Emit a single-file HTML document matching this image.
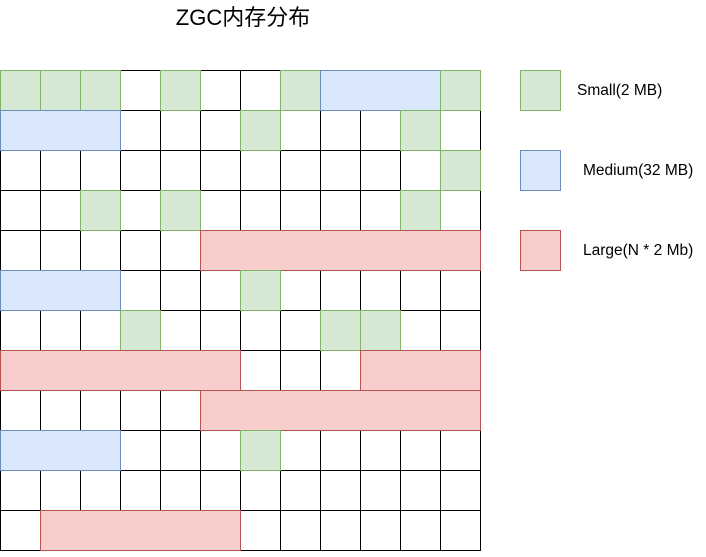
<!DOCTYPE html>
<html>
<head>
<meta charset="utf-8">
<style>
  html,body{margin:0;padding:0;background:#fff;}
  body{width:706px;height:552px;overflow:hidden;}
  svg text{font-family:"Liberation Sans","Noto Sans CJK SC",sans-serif;}
</style>
</head>
<body>
<svg id="chart" width="706" height="552" viewBox="0 0 706 552" xmlns="http://www.w3.org/2000/svg">
  <text x="243" y="25" font-size="22" text-anchor="middle" fill="#000">ZGC内存分布</text>
  <g id="grid"></g>
  <g id="blocks"></g>
  <g id="legend"></g>
</svg>
<script>
const gridCols = 12;
const gridRows = 12;
// block rows, start columns, spans, types
const blockRows  = [0,0,0,0,0,0,0, 1,1,1, 2, 3,3,3, 4, 5,5, 6,6,6, 7,7, 8, 9,9, 11];
const blockCols  = [0,1,2,4,7,8,11, 0,6,10, 11, 2,4,10, 5, 0,6, 3,8,9, 0,9, 5, 0,6, 1];
const blockSpans = [1,1,1,1,1,3,1, 3,1,1, 1, 1,1,1, 7, 3,1, 1,1,1, 6,3, 7, 3,1, 5];
const blockTypes = ['s','s','s','s','s','m','s', 'm','s','s', 's', 's','s','s', 'l', 'm','s', 's','s','s', 'l','l', 'l', 'm','s', 'l'];
const legendKeys = ['s','m','l'];
const legendLabels = ['Small(2 MB)','Medium(32 MB)','Large(N * 2 Mb)'];

const X0 = 0, Y0 = 70, CELL = 40;
const styles = {
  s:{fill:'#d5e8d4',stroke:'#82b366'},
  m:{fill:'#dae8fc',stroke:'#6c8ebf'},
  l:{fill:'#f8cecc',stroke:'#b85450'}
};
const NS = 'http://www.w3.org/2000/svg';
const xPos = c => X0 + c * CELL;
const yPos = r => Y0 + r * CELL;

const grid = document.getElementById('grid');
for (let r = 0; r < gridRows; r++) {
  for (let c = 0; c < gridCols; c++) {
    const rect = document.createElementNS(NS, 'rect');
    rect.setAttribute('x', xPos(c) + 0.5);
    rect.setAttribute('y', yPos(r) + 0.5);
    rect.setAttribute('width', CELL);
    rect.setAttribute('height', CELL);
    rect.setAttribute('fill', '#fff');
    rect.setAttribute('stroke', '#000');
    
    
    grid.appendChild(rect);
  }
}

const blocks = document.getElementById('blocks');
for (let i = 0; i < blockRows.length; i++) {
  const st = styles[blockTypes[i]];
  const rect = document.createElementNS(NS, 'rect');
  rect.setAttribute('x', xPos(blockCols[i]) + 0.5);
  rect.setAttribute('y', yPos(blockRows[i]) + 0.5);
  rect.setAttribute('width', blockSpans[i] * CELL);
  rect.setAttribute('height', CELL);
  rect.setAttribute('fill', st.fill);
  rect.setAttribute('stroke', st.stroke);
  
  
  blocks.appendChild(rect);
}

const legend = document.getElementById('legend');
for (let i = 0; i < legendKeys.length; i++) {
  const st = styles[legendKeys[i]];
  const y = 70 + i * 80;
  const rect = document.createElementNS(NS, 'rect');
  rect.setAttribute('x', 520.5);
  rect.setAttribute('y', y + 0.5);
  rect.setAttribute('width', 40);
  rect.setAttribute('height', 40);
  rect.setAttribute('fill', st.fill);
  rect.setAttribute('stroke', st.stroke);
  
  
  legend.appendChild(rect);
  const t = document.createElementNS(NS, 'text');
  t.setAttribute('x', i === 0 ? 577 : 583);
  t.setAttribute('y', y + 25);
  t.setAttribute('font-size', '15.5');
  t.setAttribute('fill', '#000');
  t.textContent = legendLabels[i];
  
  
  legend.appendChild(t);
}
</script>
</body>
</html>
